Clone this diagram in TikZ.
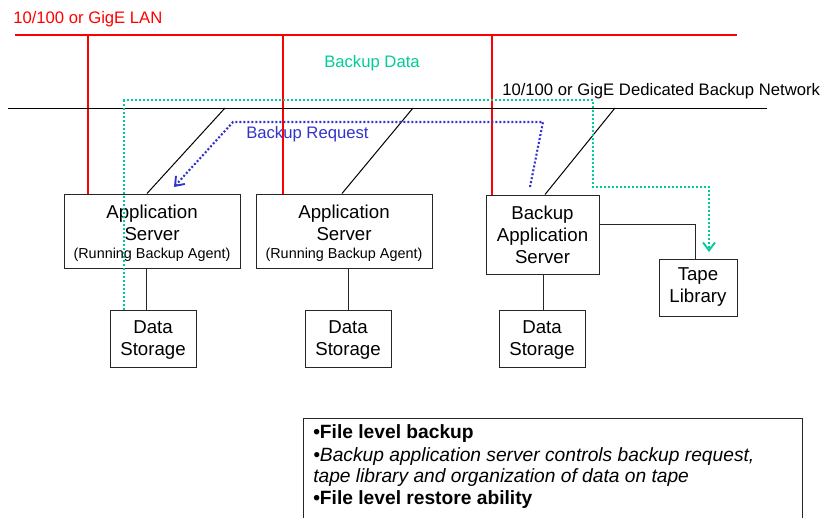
\documentclass[tikz,border=0pt]{standalone}
\usepackage{fontspec}
\setmainfont{Liberation Sans}
\usetikzlibrary{arrows.meta}
\definecolor{lanred}{RGB}{255,0,0}
\definecolor{datagreen}{RGB}{0,204,153}
\definecolor{reqblue}{RGB}{51,51,204}

\begin{document}
\begin{tikzpicture}[x=0.75pt,y=-0.75pt,
  box/.style={draw=black!85, line width=0.75pt, inner sep=0pt, align=center,
    font=\fontsize{14}{16.5}\selectfont},
  lanwire/.style={draw=lanred, line width=1.6pt},
  netwire/.style={draw=black, line width=0.75pt},
  link/.style={draw=black!85, line width=0.75pt},
  dataflow/.style={draw=datagreen, line width=1.6pt, dash pattern=on 1.5pt off 1.5pt},
  reqflow/.style={draw=reqblue, line width=1.6pt, dash pattern=on 1.5pt off 1.5pt},
  tipV/.style={-{Straight Barb[length=6pt,width=9pt,line width=1.4pt]}},
  lbl/.style={font=\fontsize{12.5}{15}\selectfont, inner sep=0pt, anchor=base west},
  note/.style={font=\fontsize{14.4}{17}\selectfont, inner sep=0pt, anchor=base west},
]
\useasboundingbox (0,0) rectangle (822,518);
\clip (0,0) rectangle (822,518);

% ---- servers and storage ----
\node[box, minimum width=176*0.75pt, minimum height=74*0.75pt] (app1) at (152,231)
  {\rule{0pt}{13.4pt}Application\\Server\\[-2.5pt]{\fontsize{10.8}{13}\selectfont (Running Backup Agent)}};
\node[box, minimum width=176*0.75pt, minimum height=74*0.75pt] (app2) at (344,231)
  {\rule{0pt}{13.4pt}Application\\Server\\[-2.5pt]{\fontsize{10.8}{13}\selectfont (Running Backup Agent)}};
\node[box, minimum width=113*0.75pt, minimum height=79*0.75pt] (bas) at (542.5,234.5)
  {Backup\\Application\\Server};
\node[box, minimum width=78*0.75pt, minimum height=57*0.75pt] (tape) at (698,287.5)
  {Tape\\Library};
\node[box, minimum width=86*0.75pt, minimum height=57*0.75pt] (ds1) at (153,338.5)
  {\rule{0pt}{12pt}Data\\Storage};
\node[box, minimum width=86*0.75pt, minimum height=57*0.75pt] (ds2) at (348,338.5)
  {\rule{0pt}{12pt}Data\\Storage};
\node[box, minimum width=86*0.75pt, minimum height=57*0.75pt] (ds3) at (542,338.5)
  {\rule{0pt}{12pt}Data\\Storage};

% ---- LAN ----
\coordinate (lanW) at (15,35);
\coordinate (lanE) at (737,35);
\draw[lanwire] (lanW) -- (lanE);
\coordinate (lan1) at (88,35);
\coordinate (lan2) at (283,35);
\coordinate (lan3) at (492,35);
\draw[lanwire] (lan1) -- (lan1 |- app1.north);
\draw[lanwire] (lan2) -- (lan2 |- app2.north);
\draw[lanwire] (lan3) -- (lan3 |- bas.north);
\node[lbl, text=lanred] (lanlbl) at (13,23) {10/100 or GigE LAN};

% ---- dedicated backup network ----
\coordinate (netW) at (8,108);
\coordinate (netE) at (767,108);
\draw[netwire] (netW) -- (netE);
\coordinate (tap1) at (225,108);
\coordinate (tap2) at (413,108);
\coordinate (tap3) at (615,108);
\coordinate (drop1) at (147,0);
\coordinate (drop2) at (342,0);
\coordinate (drop3) at (545,0);
\draw[netwire] (tap1) -- (drop1 |- app1.north);
\draw[netwire] (tap2) -- (drop2 |- app2.north);
\draw[netwire] (tap3) -- (drop3 |- bas.north);
\node[lbl] (netlbl) at (502,95) {10/100 or GigE Dedicated Backup Network};

% ---- server to storage / tape links ----
\coordinate (s1) at (146,0);
\coordinate (s2) at (348,0);
\coordinate (s3) at (543,0);
\draw[link] (s1 |- app1.south) -- (s1 |- ds1.north);
\draw[link] (s2 |- app2.south) -- (s2 |- ds2.north);
\draw[link] (s3 |- bas.south) -- (s3 |- ds3.north);
\coordinate (tl) at (695,224);
\draw[link] (bas.east |- tl) -- (tl) -- (tl |- tape.north);

% ---- backup data flow ----
\coordinate (g0) at (124,0);
\coordinate (g1) at (124,100);
\coordinate (g2) at (593,100);
\coordinate (g3) at (593,187);
\coordinate (g4) at (709,187);
\coordinate (g5) at (709,252);
\draw[dataflow, tipV] (g0 |- ds1.north) -- (g1) -- (g2) -- (g3) -- (g4) -- (g5);
\node[lbl, text=datagreen] (datalbl) at (324,67) {Backup Data};

% ---- backup request flow ----
\coordinate (b0) at (530,187);
\coordinate (b1) at (543,122);
\coordinate (b2) at (233,122);
\coordinate (b3) at (174,187);
\draw[reqflow, tipV] (b0) -- (b1) -- (b2) -- (b3);
\node[lbl, text=reqblue] (reqlbl) at (246,138) {Backup Request};

% ---- notes ----
\node[draw=black!85, line width=0.75pt, minimum width=499*0.75pt,
  minimum height=122*0.75pt, inner sep=0pt] (notes) at (552.5,479) {};
\node[note] (n1) at (313,438) {\bfseries •File level backup};
\node[note] (n2) at (313,461) {\itshape •Backup application server controls backup request,};
\node[note] (n3) at (313,482) {\itshape tape library and organization of data on tape};
\node[note] (n4) at (313,504) {\bfseries •File level restore ability};
\end{tikzpicture}
\end{document}
